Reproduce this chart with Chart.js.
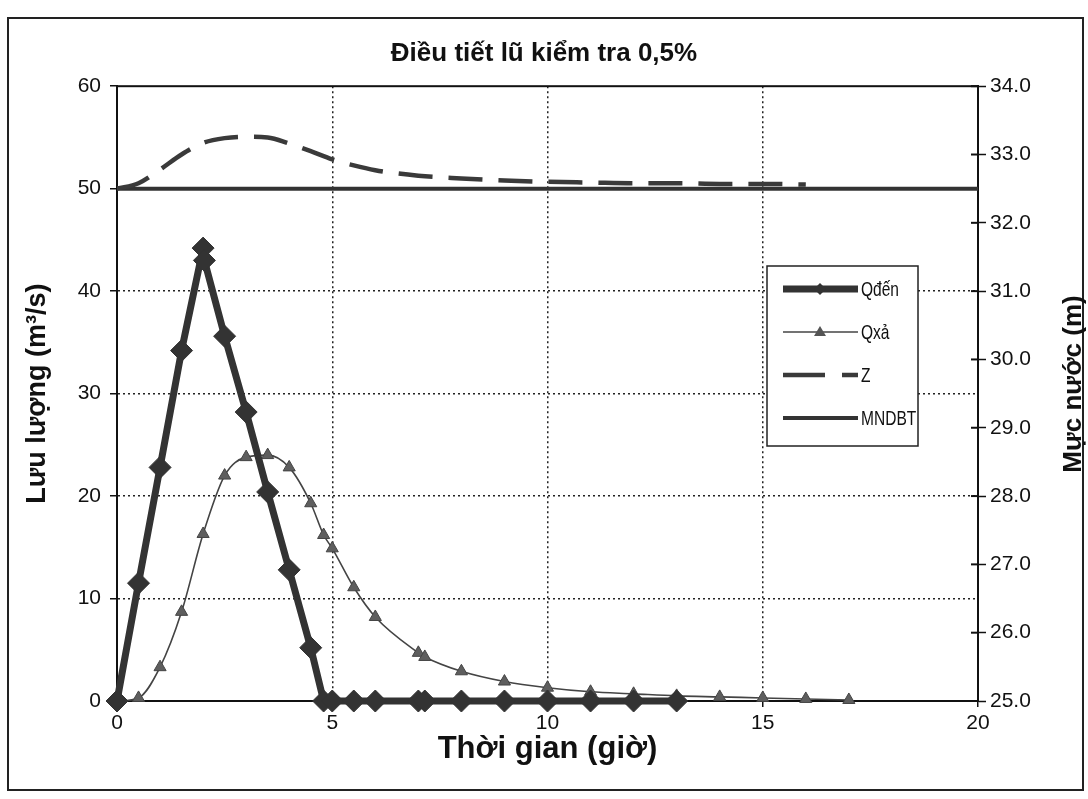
<!DOCTYPE html>
<html>
<head>
<meta charset="utf-8">
<script src="https://cdn.jsdelivr.net/npm/chart.js@4.4.1/dist/chart.umd.min.js"></script>
<style>
  html, body { margin: 0; padding: 0; background: #fff; }
  #wrap { width: 1088px; height: 799px; }
</style>
</head>
<body>
<div id="wrap"><canvas id="chart" width="1088" height="799"></canvas></div>
<script>
// time (giờ) and discharge (m3/s)
var tDen = [0, 0.5, 1, 1.5, 2, 2.03, 2.5, 3, 3.5, 4, 4.5, 4.8, 5, 5.5, 6, 7, 7.15, 8, 9, 10, 11, 12, 13];
var qDen = [0, 11.5, 22.8, 34.2, 44.2, 43.0, 35.6, 28.2, 20.4, 12.8, 5.2, 0, 0, 0, 0, 0, 0, 0, 0, 0, 0, 0, 0];

var tXa = [0, 0.5, 1, 1.5, 2, 2.5, 3, 3.5, 4, 4.5, 4.8, 5, 5.5, 6, 7, 7.15, 8, 9, 10, 11, 12, 13, 14, 15, 16, 17];
var qXa = [0, 0.3, 3.3, 8.7, 16.3, 22.0, 23.8, 24.0, 22.8, 19.3, 16.2, 14.9, 11.1, 8.2, 4.7, 4.3, 2.9, 1.9, 1.3, 0.9, 0.7, 0.5, 0.4, 0.3, 0.2, 0.1];

// water level (m)
var tZ = [0, 0.5, 1, 1.5, 2, 2.5, 3, 3.5, 4, 4.5, 5, 5.5, 6, 7, 8, 9, 10, 11, 12, 13, 14, 15, 16];
var zVal = [32.5, 32.58, 32.78, 33.0, 33.17, 33.24, 33.26, 33.25, 33.16, 33.05, 32.93, 32.84, 32.77, 32.69, 32.65, 32.62, 32.60, 32.59, 32.58, 32.58, 32.57, 32.57, 32.56];

var tMndbt = [0, 20];
var mndbt = [32.5, 32.5];

var legendNames = ['Qđến', 'Qxả', 'Z', 'MNDBT'];

function pts(xs, ys) {
    return xs.map(function(x, i) { return {x: x, y: ys[i]}; });
}

Chart.defaults.font.family = "'Liberation Sans', Arial, sans-serif";
Chart.defaults.color = '#111';

var frameAndLegend = {
    id: 'frameAndLegend',
    beforeDatasetsDraw: function(chart) {
        var ctx = chart.ctx, a = chart.chartArea;
        ctx.save();
        ctx.strokeStyle = '#111';
        ctx.lineWidth = 2;
        ctx.strokeRect(a.left, a.top, a.right - a.left, a.bottom - a.top);
        // inner tick marks on the right axis
        var s = chart.scales.y2;
        s.ticks.forEach(function(t) {
            var y = s.getPixelForValue(t.value);
            ctx.beginPath();
            ctx.moveTo(a.right - 7, y);
            ctx.lineTo(a.right, y);
            ctx.stroke();
        });
        ctx.restore();
    },
    afterDraw: function(chart) {
        var ctx = chart.ctx;
        ctx.save();
        // outer frame
        ctx.strokeStyle = '#222';
        ctx.lineWidth = 2;
        ctx.strokeRect(8, 18, 1075, 772);

        // right axis title, reading bottom to top
        ctx.translate(1074, 384);
        ctx.rotate(-Math.PI / 2);
        ctx.font = "bold 26px 'Liberation Sans', Arial, sans-serif";
        ctx.textAlign = 'center';
        ctx.textBaseline = 'middle';
        ctx.fillStyle = '#111';
        ctx.fillText('Mực nước (m)', 0, 0);
        ctx.restore();

        // legend box
        ctx.save();
        var bx = 767, by = 266, bw = 151, bh = 180;
        ctx.fillStyle = '#fff';
        ctx.fillRect(bx, by, bw, bh);
        ctx.strokeStyle = '#222';
        ctx.lineWidth = 1.5;
        ctx.strokeRect(bx, by, bw, bh);
        var rowY = [289, 332, 375, 418];
        var x1 = 783, x2 = 858, xm = 820;
        // Qđến
        ctx.strokeStyle = '#333';
        ctx.lineWidth = 7;
        ctx.beginPath(); ctx.moveTo(x1, rowY[0]); ctx.lineTo(x2, rowY[0]); ctx.stroke();
        ctx.fillStyle = '#333';
        ctx.beginPath();
        ctx.moveTo(xm, rowY[0] - 6); ctx.lineTo(xm + 6, rowY[0]); ctx.lineTo(xm, rowY[0] + 6); ctx.lineTo(xm - 6, rowY[0]);
        ctx.closePath(); ctx.fill();
        // Qxả
        ctx.strokeStyle = '#444';
        ctx.lineWidth = 1.5;
        ctx.beginPath(); ctx.moveTo(x1, rowY[1]); ctx.lineTo(x2, rowY[1]); ctx.stroke();
        ctx.fillStyle = '#555';
        ctx.beginPath();
        ctx.moveTo(xm, rowY[1] - 6); ctx.lineTo(xm + 6, rowY[1] + 4); ctx.lineTo(xm - 6, rowY[1] + 4);
        ctx.closePath(); ctx.fill();
        // Z
        ctx.strokeStyle = '#3a3a3a';
        ctx.lineWidth = 4.5;
        ctx.beginPath(); ctx.moveTo(x1, rowY[2]); ctx.lineTo(825, rowY[2]);
        ctx.moveTo(842, rowY[2]); ctx.lineTo(x2, rowY[2]); ctx.stroke();
        // MNDBT
        ctx.strokeStyle = '#333';
        ctx.lineWidth = 4;
        ctx.beginPath(); ctx.moveTo(x1, rowY[3]); ctx.lineTo(x2, rowY[3]); ctx.stroke();

        // narrow legend text
        ctx.fillStyle = '#111';
        ctx.font = "21px 'Liberation Sans', Arial, sans-serif";
        ctx.textAlign = 'left';
        ctx.textBaseline = 'middle';
        legendNames.forEach(function(n, i) {
            ctx.save();
            ctx.translate(861, rowY[i] + 1);
            ctx.scale(0.74, 1);
            ctx.fillText(n, 0, 0);
            ctx.restore();
        });
        ctx.restore();
    }
};

var dotted = function(edgeA, edgeB) {
    return function(c) {
        if (c.tick && (c.tick.value === edgeA || c.tick.value === edgeB)) return 'rgba(0,0,0,0)';
        return '#222';
    };
};

var ctx = document.getElementById('chart').getContext('2d');
var chart = new Chart(ctx, {
    type: 'line',
    data: {
        datasets: [{
            label: legendNames[0],
            data: pts(tDen, qDen),
            yAxisID: 'y',
            clip: false,
            borderColor: '#333',
            borderWidth: 7,
            borderJoinStyle: 'round',
            pointStyle: 'rectRot',
            pointRadius: 11,
            pointBorderWidth: 1,
            pointBackgroundColor: '#333',
            pointBorderColor: '#333',
            tension: 0
        }, {
            label: legendNames[1],
            data: pts(tXa, qXa),
            yAxisID: 'y',
            clip: false,
            borderColor: '#444',
            borderWidth: 1.6,
            pointStyle: 'triangle',
            pointRadius: 7,
            pointBorderWidth: 1,
            pointBackgroundColor: '#5e5e5e',
            pointBorderColor: '#444',
            cubicInterpolationMode: 'monotone'
        }, {
            label: legendNames[2],
            data: pts(tZ, zVal),
            yAxisID: 'y2',
            borderColor: '#3a3a3a',
            borderWidth: 4.5,
            borderDash: [34, 16],
            pointRadius: 0,
            cubicInterpolationMode: 'monotone'
        }, {
            label: legendNames[3],
            data: pts(tMndbt, mndbt),
            yAxisID: 'y2',
            borderColor: '#333',
            borderWidth: 4,
            pointRadius: 0
        }]
    },
    options: {
        responsive: false,
        animation: false,
        devicePixelRatio: 1,
        layout: { padding: 0 },
        plugins: {
            legend: { display: false },
            tooltip: { enabled: false },
            title: {
                display: true,
                text: 'Điều tiết lũ kiểm tra 0,5%',
                font: { size: 26, weight: 'bold' },
                color: '#111',
                padding: { top: 38, bottom: 17 }
            }
        },
        scales: {
            x: {
                type: 'linear',
                min: 0,
                max: 20,
                afterFit: function(s) { s.height = 98; },
                ticks: { stepSize: 5, font: { size: 21 }, color: '#111', padding: 4, maxRotation: 0 },
                grid: { color: dotted(0, 20), lineWidth: 1.5, tickLength: 6, tickColor: '#111', tickWidth: 1.5 },
                border: { display: true, color: '#111', width: 2, dash: [2, 3] },
                title: {
                    display: true,
                    text: 'Thời gian (giờ)',
                    font: { size: 31, weight: 'bold' },
                    color: '#111',
                    padding: { top: 0, bottom: 31 }
                }
            },
            y: {
                position: 'left',
                min: 0,
                max: 60,
                afterFit: function(s) { s.width = 117; },
                ticks: { stepSize: 10, font: { size: 21 }, color: '#111', padding: 9 },
                grid: { color: dotted(0, 60), lineWidth: 1.5, tickLength: 7, tickColor: '#111', tickWidth: 1.5 },
                border: { display: true, color: '#111', width: 2, dash: [2, 3] },
                title: {
                    display: true,
                    text: 'Lưu lượng (m³/s)',
                    font: { size: 27, weight: 'bold' },
                    color: '#111',
                    padding: { top: 21, bottom: 0 }
                }
            },
            y2: {
                position: 'right',
                min: 25,
                max: 34,
                afterFit: function(s) { s.width = 110; },
                ticks: {
                    stepSize: 1,
                    font: { size: 21 },
                    color: '#111',
                    padding: 4,
                    callback: function(v) { return Number(v).toFixed(1); }
                },
                grid: { drawOnChartArea: false, tickLength: 8, tickColor: '#111', tickWidth: 1.5 },
                border: { display: true, color: '#111', width: 2 }
            }
        }
    },
    plugins: [frameAndLegend]
});
</script>
</body>
</html>
